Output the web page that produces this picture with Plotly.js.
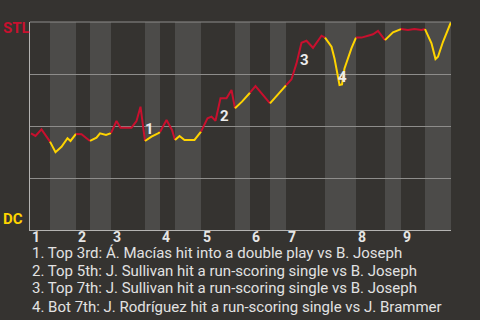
<!DOCTYPE html>
<html>
<head>
<meta charset="utf-8">
<script src="https://cdn.plot.ly/plotly-3.0.1.min.js"></script>
<style>
  html, body { margin: 0; padding: 0; background: #353330; }
  #chart { width: 480px; height: 320px; }
</style>
</head>
<body>
<div id="chart"></div>
<script>
// Game progress (plate-appearance scale) and St. Louis win probability (%)
const playX = [0.2, 1.1, 2.3, 2.9, 3.6, 4.0, 5.1, 6.3, 7.5, 8.1, 9.2, 10.3, 11.3, 12.0, 13.3, 14.0, 15.2, 16.2,
  17.3, 18.1, 20.3, 21.3, 22.1, 23.0, 24.3, 25.6, 26.0, 27.3, 28.4, 29.0, 29.9, 30.9, 32.9, 34.2, 35.5, 36.3,
  37.1, 38.1, 39.3, 40.3, 41.0, 42.4, 44.0, 45.1, 48.0, 51.2, 52.3, 53.3, 54.3, 55.3, 56.1, 56.6, 58.3, 59.0,
  60.3, 60.9, 61.9, 62.4, 62.9, 64.3, 65.2, 66.3, 67.6, 68.6, 69.6, 71.0, 72.6, 74.2, 75.6, 76.9, 78.3, 79.0,
  79.6, 80.3, 81.1, 81.6, 82.6, 84.2];
const stlWinPct = [46.5, 45.2, 48.4, 46.5, 44.1, 42.5, 37.4, 40.0, 44.1, 42.8, 46.2, 46.0, 44.1, 42.8, 44.4, 46.5, 45.7, 46.6,
  52.4, 49.2, 49.2, 52.4, 59.3, 42.8, 44.9, 46.5, 47.1, 52.9, 48.1, 43.3, 45.2, 43.3, 43.3, 47.3, 53.7, 54.5,
  52.5, 63.3, 63.3, 67.3, 58.5, 61.7, 66.0, 69.2, 60.9, 69.5, 72.5, 80.1, 90.0, 91.0, 88.9, 87.6, 93.4, 92.5,
  88.1, 82.5, 69.7, 70.0, 77.7, 87.4, 92.5, 92.5, 93.4, 94.1, 95.7, 91.3, 95.0, 96.6, 96.2, 96.6, 96.2, 96.6,
  93.4, 89.8, 82.2, 83.3, 90.5, 100];

// Half-inning edges on the same scale (top 1st, bottom 1st, ... bottom 9th)
const halfInningEdges = [0, 4, 9.2, 12, 16.2, 23, 26, 29, 34.2, 41, 44, 48, 51.2, 59, 65.2, 71, 74.2, 79, 84.2];
const inningLabels = ['1', '2', '3', '4', '5', '6', '7', '8', '9'];

// Key plays: which point each marker belongs to
const eventPoint = [23, 37, 48, 56];
const eventLabel = ['1', '2', '3', '4'];
const eventNotes = [
  '1. Top 3rd: Á. Macías hit into a double play vs B. Joseph',
  '2. Top 5th: J. Sullivan hit a run-scoring single vs B. Joseph',
  '3. Top 7th: J. Sullivan hit a run-scoring single vs B. Joseph',
  '4. Bot 7th: J. Rodríguez hit a run-scoring single vs J. Brammer'
];

const teamTop = { name: 'STL', color: '#c8102e' };
const teamBottom = { name: 'DC', color: '#ffd400' };

const BG = '#353330';
const BAND = '#4c4b49';
const FONT = 'Roboto, "Noto Sans", sans-serif';

// which half-inning each point falls in
function halfOf(x) {
  for (let h = 0; h < halfInningEdges.length - 1; h++) {
    if (x <= halfInningEdges[h + 1] + 1e-9) return h;
  }
  return halfInningEdges.length - 2;
}

const traces = [];
const nHalves = halfInningEdges.length - 1;
for (let h = 0; h < nHalves; h++) {
  const xs = [], ys = [];
  for (let i = 0; i < playX.length; i++) {
    if (halfOf(playX[i]) === h) {
      // start each half-inning from the last point of the previous one
      if (xs.length === 0 && i > 0) { xs.push(playX[i - 1]); ys.push(stlWinPct[i - 1]); }
      xs.push(playX[i]); ys.push(stlWinPct[i]);
    }
  }
  if (!xs.length) continue;
  traces.push({
    type: 'scatter', mode: 'lines', x: xs, y: ys,
    line: { color: h % 2 === 0 ? teamTop.color : teamBottom.color, width: 2 },
    hoverinfo: 'skip', showlegend: false
  });
}

// alternate shading for the bottom halves
const shapes = [];
for (let h = 1; h < nHalves; h += 2) {
  shapes.push({
    type: 'rect', layer: 'below', xref: 'x', yref: 'paper',
    x0: halfInningEdges[h], x1: halfInningEdges[h + 1], y0: 0, y1: 1,
    fillcolor: BAND, line: { width: 0 }
  });
}
// top border line
shapes.push({ type: 'line', xref: 'paper', yref: 'paper', x0: 0, x1: 1, y0: 1, y1: 1,
  line: { color: '#8e8d8b', width: 1 } });

const annotations = [];
// inning numbers at the start of each top half
inningLabels.forEach((lab, i) => {
  annotations.push({
    xref: 'x', yref: 'paper', x: halfInningEdges[i * 2], y: -0.034,
    xanchor: 'left', yanchor: 'middle', showarrow: false, text: '<b>' + lab + '</b>',
    font: { family: FONT, size: 14, color: '#e6e6e6' }
  });
});
// team labels
annotations.push({ xref: 'paper', yref: 'paper', x: -0.068, y: 0.971, xanchor: 'left', yanchor: 'middle',
  showarrow: false, text: '<b>' + teamTop.name + '</b>', font: { family: FONT, size: 15, color: teamTop.color } });
annotations.push({ xref: 'paper', yref: 'paper', x: -0.068, y: 0.053, xanchor: 'left', yanchor: 'middle',
  showarrow: false, text: '<b>' + teamBottom.name + '</b>', font: { family: FONT, size: 15, color: teamBottom.color } });

// key-play markers, nudged off the line
const markerShift = [[4, 12], [4, -18], [3, -17], [3, 8]];
eventPoint.forEach((p, i) => {
  annotations.push({
    xref: 'x', yref: 'y', x: playX[p], y: stlWinPct[p], xanchor: 'center', yanchor: 'middle',
    xshift: markerShift[i][0], yshift: markerShift[i][1], showarrow: false,
    text: '<b>' + eventLabel[i] + '</b>', font: { family: FONT, size: 15, color: '#ececec' }
  });
});

// notes under the chart
const noteY = [-0.112, -0.197, -0.280, -0.369];
eventNotes.forEach((t, i) => {
  annotations.push({
    xref: 'paper', yref: 'paper', x: 0, y: noteY[i], xanchor: 'left', yanchor: 'middle',
    showarrow: false, text: t, font: { family: FONT, size: 15, color: '#e2e2e2' }
  });
});

const layout = {
  width: 480, height: 320,
  margin: { l: 30, r: 29, t: 22, b: 90 },
  paper_bgcolor: BG, plot_bgcolor: BG,
  showlegend: false,
  xaxis: {
    range: [0, halfInningEdges[halfInningEdges.length - 1]],
    showgrid: false, zeroline: false, showticklabels: false, ticks: '',
    showline: true, linecolor: '#b5b4b2', linewidth: 1, fixedrange: true
  },
  yaxis: {
    range: [0, 100], tickvals: [25, 50, 75], showticklabels: false, ticks: '',
    showgrid: true, gridcolor: '#8e8d8b', gridwidth: 1, zeroline: false,
    showline: true, linecolor: '#b5b4b2', linewidth: 1, fixedrange: true
  },
  shapes: shapes,
  annotations: annotations
};

Plotly.newPlot('chart', traces, layout, { displayModeBar: false, staticPlot: true });
</script>
</body>
</html>
